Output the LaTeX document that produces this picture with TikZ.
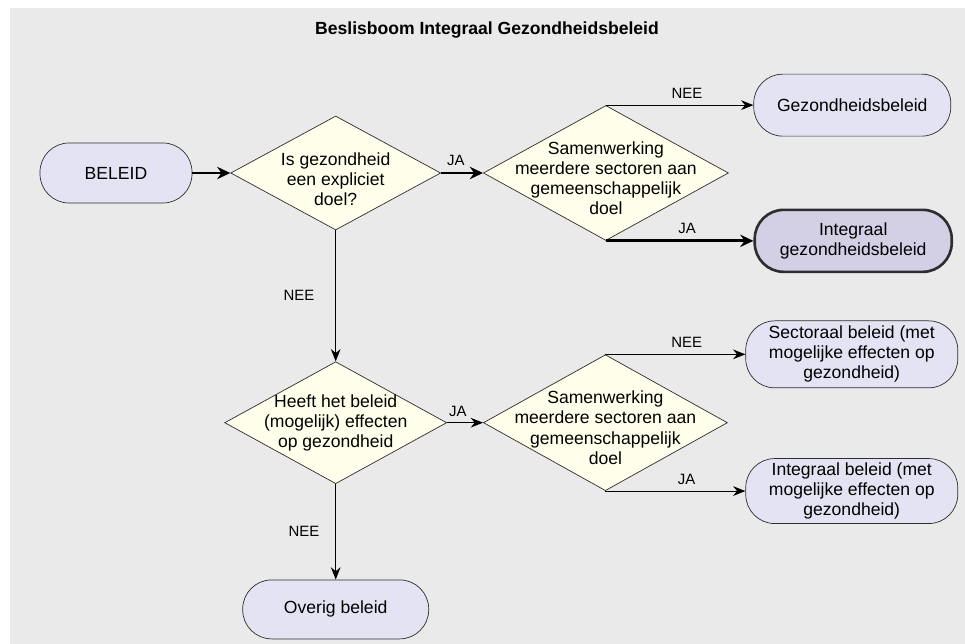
\documentclass[tikz,border=0pt]{standalone}
\usepackage{fontspec}
\setmainfont{Liberation Sans}
\usetikzlibrary{positioning, shapes.geometric, arrows.meta}
\definecolor{bgGray}{RGB}{234,234,234}
\definecolor{termFill}{RGB}{228,227,243}
\definecolor{endFill}{RGB}{211,208,229}
\definecolor{askFill}{RGB}{255,255,236}
\definecolor{lineGray}{RGB}{45,45,45}

\begin{document}
\begin{tikzpicture}[
    every node/.style={font=\fontsize{10}{11.4}\selectfont, align=center},
    term/.style={draw=lineGray, rectangle, rounded corners=0.58cm, fill=termFill, inner sep=2pt},
    ask/.style={draw=lineGray, diamond, fill=askFill, inner sep=0pt},
    arrow/.style={-{Stealth[length=7pt, width=5.5pt]}, line width=0.6pt},
    bigarrow/.style={-{Stealth[length=7.5pt, width=7pt]}, line width=1.6pt},
    tag/.style={font=\fontsize{8.5}{10}\selectfont}
  ]
    \useasboundingbox (0,0) rectangle (19.3,-12.88);
    \fill[bgGray] (0.2,-0.16) rectangle (19.3,-12.88);

    \node (title) at (9.74,-0.6) {\bfseries Beslisboom Integraal Gezondheidsbeleid};

    \node[term, minimum width=3.04cm, minimum height=1.2cm] (beleid) at (2.32,-3.46) {BELEID};
    \node[ask, minimum width=4.2cm, minimum height=2.28cm, right=0.76cm of beleid,
      label={[yshift=-0.12cm]center:Is gezondheid\\een expliciet\\doel?}] (q1) {};
    \node[ask, minimum width=4.9cm, minimum height=2.7cm, right=0.84cm of q1,
      label={[yshift=-0.1cm]center:Samenwerking\\meerdere sectoren aan\\gemeenschappelijk\\doel}] (q2) {};
    \node[term, minimum width=3.94cm, minimum height=1.24cm, right=2.95cm of q2.north] (gezond) {Gezondheidsbeleid};
    \node[term, minimum width=3.94cm, minimum height=1.24cm, right=2.95cm of q2.south,
      fill=endFill, line width=1.5pt] (integraal) {Integraal\\gezondheidsbeleid};

    \node[ask, minimum width=4.44cm, minimum height=2.44cm, below=2.62cm of q1,
      label={center:Heeft het beleid\\(mogelijk) effecten\\op gezondheid}] (q3) {};
    \node[ask, minimum width=4.88cm, minimum height=2.72cm, right=0.72cm of q3,
      label={[yshift=-0.1cm]center:Samenwerking\\meerdere sectoren aan\\gemeenschappelijk\\doel}] (q4) {};
    \node[term, minimum width=4.24cm, minimum height=1.34cm, right=2.8cm of q4.north] (sectoraal) {Sectoraal beleid (met\\mogelijke effecten op\\gezondheid)};
    \node[term, minimum width=4.24cm, minimum height=1.3cm, right=2.8cm of q4.south] (intbeleid) {Integraal beleid (met\\mogelijke effecten op\\gezondheid)};
    \node[term, minimum width=3.72cm, minimum height=1.18cm, below=1.91cm of q3] (overig) {Overig beleid};

    \draw[bigarrow] (beleid) -- (q1);
    \draw[bigarrow] (q1) -- node[tag, above, pos=0.35] {JA} (q2);
    \draw[arrow] (q2.north) -- node[tag, above, pos=0.55] {NEE} (gezond);
    \draw[bigarrow] (q2.south) -- node[tag, above, pos=0.55] {JA} (integraal);
    \draw[arrow] (q1) -- node[tag, left=0.3cm] {NEE} (q3);
    \draw[arrow] (q3) -- node[tag, above, pos=0.3] {JA} (q4);
    \draw[arrow] (q4.north) -- node[tag, above, pos=0.58] {NEE} (sectoraal);
    \draw[arrow] (q4.south) -- node[tag, above, pos=0.58] {JA} (intbeleid);
    \draw[arrow] (q3) -- node[tag, left=0.2cm] {NEE} (overig);
  \end{tikzpicture}
\end{document}
